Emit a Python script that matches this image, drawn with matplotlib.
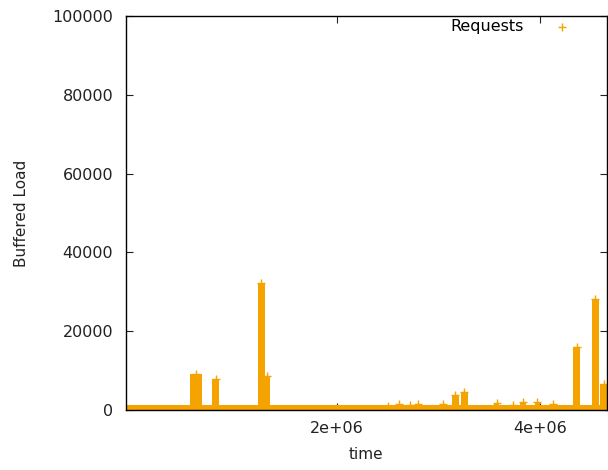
import matplotlib.pyplot as plt
import matplotlib.ticker as mticker

# bursts of buffered requests: start time, end time, peak load
burst_start = [0.55e6, 0.77e6, 1.22e6, 1.29e6, 2.48e6, 2.59e6, 2.70e6, 2.78e6,
               3.02e6, 3.13e6, 3.22e6, 3.55e6, 3.71e6, 3.80e6, 3.95e6, 4.10e6,
               4.33e6, 4.51e6, 4.59e6]
burst_end = [0.67e6, 0.84e6, 1.29e6, 1.34e6, 2.52e6, 2.63e6, 2.74e6, 2.82e6,
             3.08e6, 3.20e6, 3.29e6, 3.60e6, 3.76e6, 3.86e6, 4.00e6, 4.16e6,
             4.40e6, 4.58e6, 4.67e6]
burst_peak = [9200, 7900, 32300, 8700, 1100, 1600, 1300, 1500, 1500, 3800,
              4500, 1800, 1200, 2000, 2100, 1600, 16000, 28200, 6600]

t_min, t_max = -0.08e6, 4.66e6
baseline = 1200
color = '#f5a300'

fig = plt.figure(figsize=(6.08, 4.70), dpi=100)
ax = fig.add_axes([0.207, 0.128, 0.791, 0.838])

# thick band of small loads along the bottom
ax.fill_between([t_min, t_max], -800, baseline, color=color, lw=0, zorder=2)

widths = [e - s for s, e in zip(burst_start, burst_end)]
ax.bar(burst_start, burst_peak, width=widths, align='edge', color=color,
       lw=0, zorder=2)
mids = [s + w / 2 for s, w in zip(burst_start, widths)]
ax.scatter(mids, burst_peak, marker='+', s=40, color=color, lw=1, zorder=3,
           label='Requests')

ax.set_xlim(t_min, t_max)
ax.set_ylim(0, 100000)
ax.set_xticks([2e6, 4e6])
ax.xaxis.set_major_formatter(mticker.FuncFormatter(lambda v, p: '%de+06' % round(v / 1e6)))
ax.set_yticks(range(0, 100001, 20000))
ax.tick_params(direction='in', top=True, right=True, length=5, labelsize=11.5,
               pad=9, colors='#222222')
ax.tick_params(axis='x', pad=8)
for sp in ax.spines.values():
    sp.set_linewidth(1.0)
    sp.set_zorder(4)

ax.set_xlabel('time', fontsize=11, labelpad=8, color='#222222')
ax.set_ylabel('Buffered Load', fontsize=11, labelpad=17, color='#222222')

leg = ax.legend(loc='upper right', frameon=False, markerfirst=False,
                fontsize=11.5, handletextpad=1.4, borderaxespad=1.8,
                borderpad=0.0)
leg.set_bbox_to_anchor((1.0, 1.066), transform=ax.transAxes)

fig.savefig('out.png')
